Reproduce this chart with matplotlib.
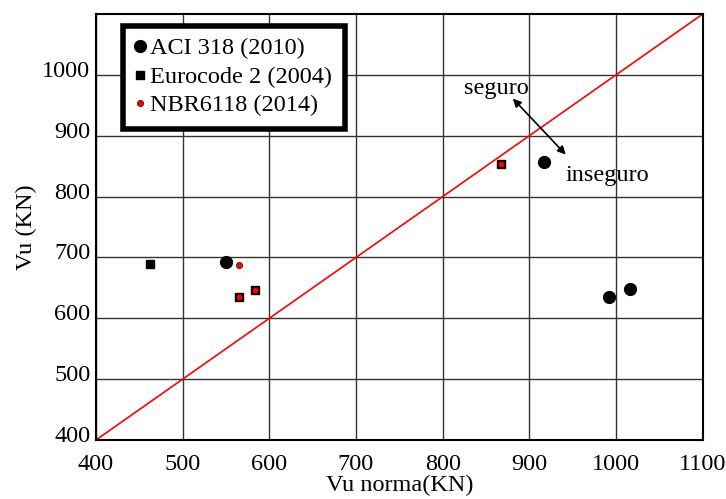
import numpy as np
import matplotlib
matplotlib.use("Agg")
import matplotlib.pyplot as plt
import matplotlib.transforms as mtransforms

# ===================== 数据 =====================
aci_x = [550, 917, 992, 1016]
aci_y = [692, 857, 635, 648]
ec2_x = [463, 565, 583, 867]
ec2_y = [690, 635, 646, 853]
nbr_x = [565, 565, 583, 867]
nbr_y = [688, 635, 646, 853]
xticks = [400, 500, 600, 700, 800, 900, 1000, 1100]
yticks = [400, 500, 600, 700, 800, 900, 1000]

plt.rcParams["font.family"] = ["Liberation Serif", "DejaVu Serif"]
FS = 17.5

fig = plt.figure(figsize=(7.26, 4.99), dpi=100)
ax = fig.add_axes([0.132, 0.118, 0.836, 0.854])

# 网格
ax.set_axisbelow(True)
ax.grid(True, color="#333333", linewidth=1.0)

# 对角线
ax.plot([400, 1100], [400, 1100], color="red", linewidth=1.2, zorder=2)

ax.plot(aci_x, aci_y, "o", color="black", markersize=8.5, linestyle="none",
        label="ACI 318 (2010)", zorder=3)
ax.plot(ec2_x, ec2_y, "s", color="black", markersize=6, linestyle="none",
        label="Eurocode 2 (2004)", zorder=3)
ax.plot(nbr_x, nbr_y, "o", markerfacecolor="red", markeredgecolor="#400000",
        markeredgewidth=0.5, markersize=4.5, linestyle="none",
        label="NBR6118 (2014)", zorder=4)

ax.set_xlim(400, 1100)
ax.set_ylim(400, 1100)
ax.set_xticks(xticks)
ax.set_yticks(yticks)
ax.tick_params(labelsize=FS, length=0)
ax.tick_params(axis="x", pad=10)
ax.tick_params(axis="y", pad=4)
# y刻度标签略微上移
offset = mtransforms.ScaledTranslation(0, 6 / 100, fig.dpi_scale_trans)
for lab in ax.get_yticklabels():
    lab.set_transform(lab.get_transform() + offset)
for s in ax.spines.values():
    s.set_linewidth(1.5)
    s.set_color("black")

ax.set_xlabel("Vu norma(KN)", fontsize=FS, labelpad=0)
ax.set_ylabel("Vu (KN)", fontsize=FS, labelpad=4)

# 标注
ax.text(862, 978, "seguro", fontsize=FS, ha="center", va="center")
ax.text(990, 835, "inseguro", fontsize=FS, ha="center", va="center")
ax.annotate("", xy=(881, 961), xytext=(942, 869),
            arrowprops=dict(arrowstyle="<|-|>", color="black", lw=1.2,
                            mutation_scale=12, shrinkA=0, shrinkB=0))

leg = ax.legend(loc="upper left", bbox_to_anchor=(0.044, 0.972), fontsize=FS,
                frameon=True, fancybox=False, edgecolor="black",
                handlelength=0.45, handletextpad=0.2, borderpad=0.5,
                labelspacing=0.3, borderaxespad=0, handleheight=0.6)
leg.get_frame().set_linewidth(4)
leg.get_frame().set_alpha(1)

fig.savefig("out.png", dpi=100)
